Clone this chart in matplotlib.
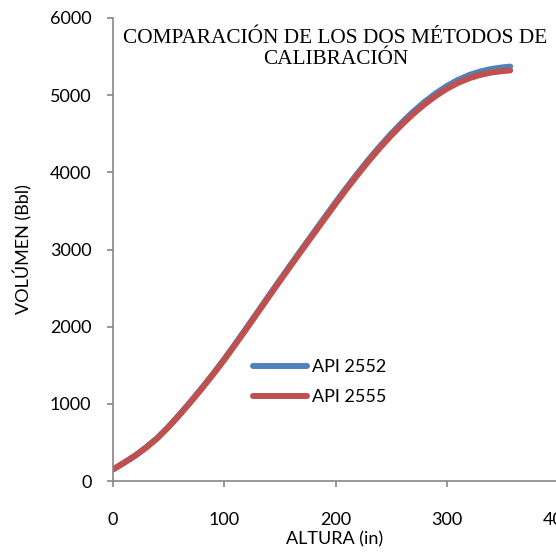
import matplotlib
matplotlib.use("Agg")
import matplotlib.pyplot as plt

# Data
altura = [0, 10, 20, 30, 40, 50, 60, 70, 80, 90, 100, 110, 120, 130, 140, 150, 160, 170, 180,
          190, 200, 210, 220, 230, 240, 250, 260, 270, 280, 290, 300, 310, 320, 330, 340, 350, 357]
api_2552 = [150, 237, 330, 438, 560, 705, 865, 1033, 1208, 1390, 1580, 1780, 1985, 2192, 2400,
            2606, 2810, 3012, 3212, 3412, 3610, 3804, 3990, 4170, 4340, 4500, 4650, 4788, 4912,
            5022, 5118, 5197, 5260, 5306, 5339, 5360, 5370]
api_2555 = [150, 237, 328, 435, 556, 700, 859, 1026, 1200, 1381, 1570, 1769, 1973, 2179, 2386,
            2591, 2794, 2995, 3194, 3393, 3590, 3784, 3970, 4149, 4318, 4476, 4623, 4759, 4880,
            4988, 5082, 5158, 5218, 5262, 5293, 5312, 5320]

x_ticks = [0, 100, 200, 300, 400]
y_ticks = [0, 1000, 2000, 3000, 4000, 5000, 6000]

title = "COMPARACIÓN DE LOS DOS MÉTODOS DE\nCALIBRACIÓN"
xlabel = "ALTURA (in)"
ylabel = "VOLÚMEN (Bbl)"

W, H = 556, 552
fig = plt.figure(figsize=(W / 100, H / 100), dpi=100)
left, right, top, bottom = 113, 558, 18, 481
ax = fig.add_axes([left / W, 1 - bottom / H, (right - left) / W, (bottom - top) / H])

sans = ["Lato", "DejaVu Sans"]
fs = 13
ax.plot(altura, api_2552, color="#4F81BD", lw=4.3, label="API 2552", solid_capstyle="round")
ax.plot(altura, api_2555, color="#C0504D", lw=4.3, label="API 2555", solid_capstyle="round")

ax.set_xlim(0, 400)
ax.set_ylim(0, 6000)
ax.set_xticks(x_ticks)
ax.set_yticks(y_ticks)
for s in ["top", "right"]:
    ax.spines[s].set_visible(False)
for s in ["left", "bottom"]:
    ax.spines[s].set_color("#868686")
    ax.spines[s].set_linewidth(1.2)
ax.tick_params(axis="both", direction="out", length=4.5, width=1.2, color="#868686",
               labelsize=fs, labelcolor="black")
ax.tick_params(axis="x", pad=18)
ax.tick_params(axis="y", pad=11)
for lab in ax.get_xticklabels() + ax.get_yticklabels():
    lab.set_family(sans)

ax.set_xlabel(xlabel, fontsize=fs, family=sans)
ax.set_ylabel(ylabel, fontsize=fs, family=sans)
ax.xaxis.set_label_coords((335 - left) / (right - left), -(539 - bottom) / (bottom - top))
ax.yaxis.set_label_coords(-(113 - 23) / (right - left), 0.5)
ax.xaxis.label.set_va("center")
ax.yaxis.label.set_va("center")

ax.text(0.5, 1 - (49 - top) / (bottom - top), title, transform=ax.transAxes, ha="center", va="center",
        fontsize=15.3, family=["Liberation Serif", "DejaVu Serif"], linespacing=1.18)

leg = ax.legend(loc="upper left", bbox_to_anchor=(253 / W, 1 - 359 / H), bbox_transform=fig.transFigure,
                frameon=False, handlelength=54 / (fs * 100 / 72), handletextpad=0.3, labelspacing=0.8,
                borderpad=0, borderaxespad=0, prop={"family": sans, "size": fs})

fig.savefig("out.png", dpi=100)
